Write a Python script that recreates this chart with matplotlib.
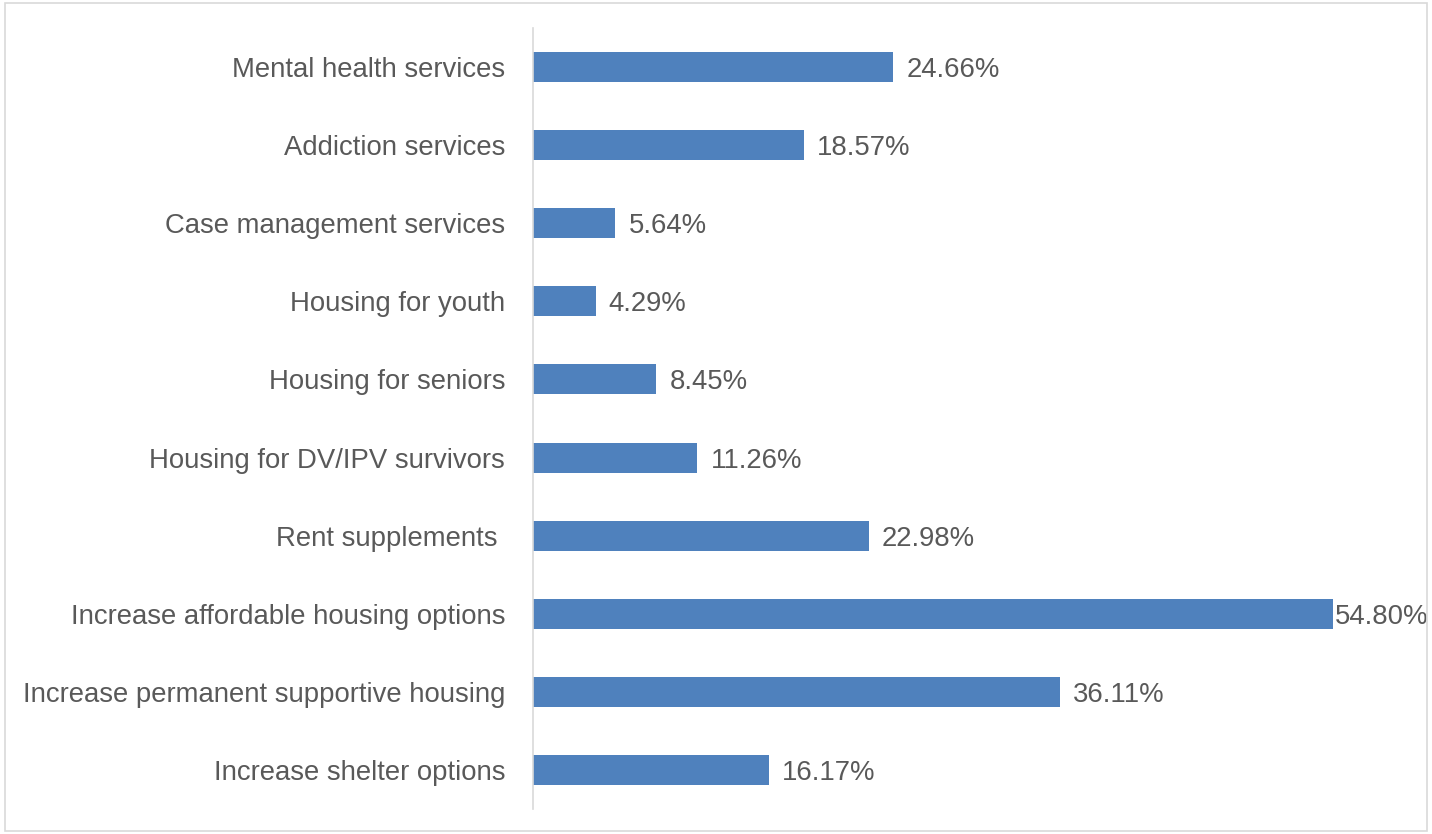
import matplotlib
matplotlib.use("Agg")
import matplotlib.pyplot as plt
from matplotlib.patches import Rectangle

categories = [
    "Mental health services",
    "Addiction services",
    "Case management services",
    "Housing for youth",
    "Housing for seniors",
    "Housing for DV/IPV survivors",
    "Rent supplements ",
    "Increase affordable housing options",
    "Increase permanent supportive housing",
    "Increase shelter options",
]
values = [24.66, 18.57, 5.64, 4.29, 8.45, 11.26, 22.98, 54.80, 36.11, 16.17]

BAR = "#4F81BD"
TEXT = "#595959"

plt.rcParams["font.family"] = ["Liberation Sans", "DejaVu Sans"]

fig = plt.figure(figsize=(14.32, 8.34), dpi=100)
ax = fig.add_axes([533 / 1432, 1 - 809 / 834, (1409 - 533) / 1432, (809 - 28) / 834])

y = list(range(len(categories)))
ax.barh(y, values, height=0.385, color=BAR)
ax.set_ylim(len(categories) - 0.5, -0.5)
ax.set_xlim(0, 60)

ax.set_yticks(y)
ax.set_yticklabels(categories, fontsize=19.8, color=TEXT, va="center_baseline")
ax.tick_params(axis="y", length=0, pad=20)
ax.set_xticks([])

for s in ["top", "right", "bottom"]:
    ax.spines[s].set_visible(False)
ax.spines["left"].set_color("#D9D9D9")
ax.spines["left"].set_linewidth(1.2)

# value labels; the longest bar gets its label tucked against the end
for yi, v in zip(y, values):
    off = 0.1 if v == max(values) else 0.9
    ax.text(v + off, yi, f"{v:.2f}%", va="center_baseline", ha="left",
            fontsize=19.8, color=TEXT)

# outer frame
fig.patches.append(Rectangle((5 / 1432, 3 / 834), 1 - 10 / 1432, 1 - 6 / 834,
                             transform=fig.transFigure, fill=False,
                             edgecolor="#D9D9D9", linewidth=1.2))

fig.savefig("out.png", dpi=100)
